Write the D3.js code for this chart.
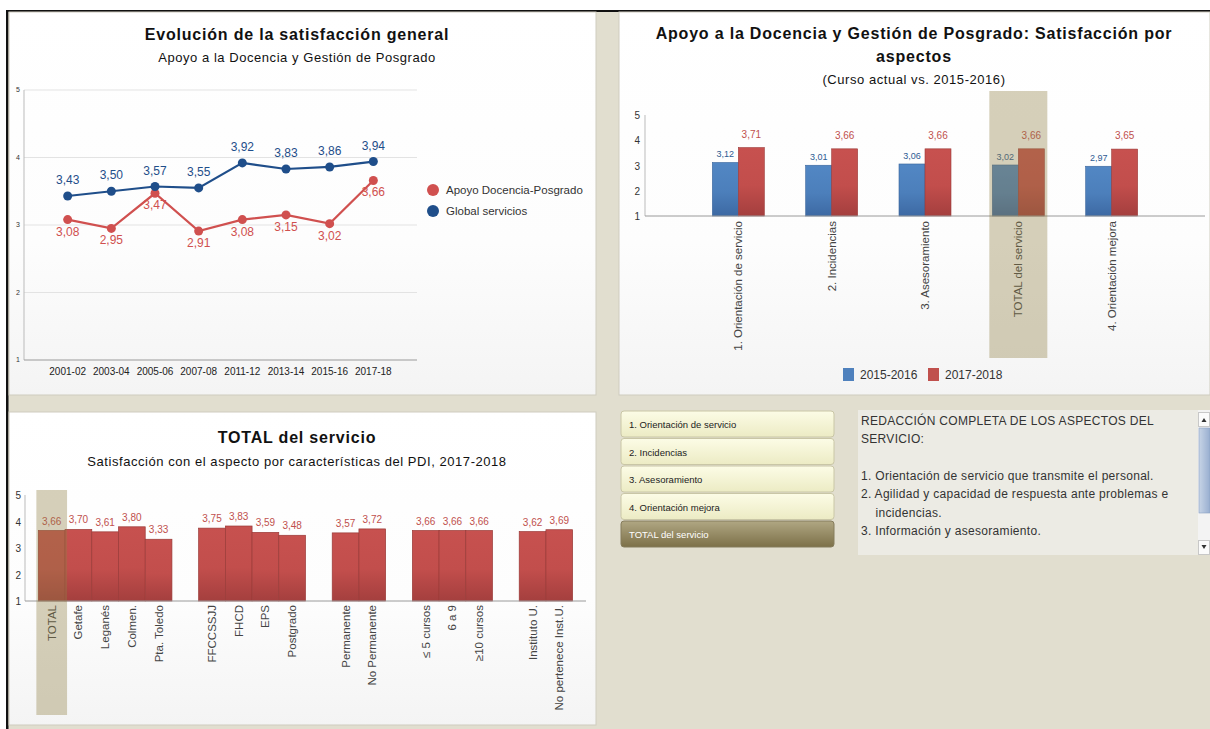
<!DOCTYPE html>
<html>
<head>
<meta charset="utf-8">
<script src="https://cdn.jsdelivr.net/npm/d3@7"></script>
<style>
  html, body { margin: 0; padding: 0; background: #fff; }
  svg { display: block; font-family: "Liberation Sans", Arial, sans-serif; }
</style>
</head>
<body>
<svg id="dash" width="1210" height="729"></svg>
<script>
// ---- Datos ----
const cursos = ["2001-02", "2003-04", "2005-06", "2007-08", "2011-12", "2013-14", "2015-16", "2017-18"];
const apoyoDocencia = [3.08, 2.95, 3.47, 2.91, 3.08, 3.15, 3.02, 3.66];
const globalServicios = [3.43, 3.50, 3.57, 3.55, 3.92, 3.83, 3.86, 3.94];
const seriesEvolucion = ["Apoyo Docencia-Posgrado", "Global servicios"];

const aspectos = ["1. Orientación de servicio", "2. Incidencias", "3. Asesoramiento", "TOTAL del servicio", "4. Orientación mejora"];
const valores2015 = [3.12, 3.01, 3.06, 3.02, 2.97];
const valores2017 = [3.71, 3.66, 3.66, 3.66, 3.65];
const seriesAspectos = ["2015-2016", "2017-2018"];

const caracteristicas = ["TOTAL", "Getafe", "Leganés", "Colmen.", "Pta. Toledo",
  "FFCCSSJJ", "FHCD", "EPS", "Postgrado",
  "Permanente", "No Permanente",
  "≤ 5 cursos", "6 a 9", "≥10 cursos",
  "Instituto U.", "No pertenece Inst.U."];
const grupoCaracteristica = [0, 0, 0, 0, 0, 1, 1, 1, 1, 2, 2, 3, 3, 3, 4, 4];
const satisfaccionPDI = [3.66, 3.70, 3.61, 3.80, 3.33, 3.75, 3.83, 3.59, 3.48, 3.57, 3.72, 3.66, 3.66, 3.66, 3.62, 3.69];

const yTicks = [1, 2, 3, 4, 5];

const botones = ["1. Orientación de servicio", "2. Incidencias", "3. Asesoramiento", "4. Orientación mejora", "TOTAL del servicio"];
const botonActivo = "TOTAL del servicio";
const textoAspectos = [
  "REDACCIÓN COMPLETA DE LOS ASPECTOS DEL",
  "SERVICIO:",
  "",
  "1. Orientación de servicio que transmite el personal.",
  "2. Agilidad y capacidad de respuesta ante problemas e",
  "    incidencias.",
  "3. Información y asesoramiento."
];

// ---- Utilidades ----
const es = d3.formatLocale({ decimal: ",", thousands: ".", grouping: [3], currency: ["", " €"] });
const fmt = es.format(".2f");

const C = {
  beige: "#e1decf",
  red: "#c0504d",
  redLine: "#d0504f",
  blue: "#4f81bd",
  navy: "#1f4e8a",
  grid: "#e3e3e3",
  axis: "#9a9a9a",
  text: "#222"
};

const svg = d3.select("#dash");
const defs = svg.append("defs");

function vGrad(id, stops) {
  const g = defs.append("linearGradient").attr("id", id)
    .attr("x1", 0).attr("y1", 0).attr("x2", 0).attr("y2", 1);
  stops.forEach(([o, c]) => g.append("stop").attr("offset", o).attr("stop-color", c));
}
vGrad("panelBg", [[0, "#ffffff"], [0.6, "#fdfdfd"], [1, "#f4f4f4"]]);
vGrad("barRed", [[0, "#c7514f"], [0.55, "#c24e4c"], [1, "#a43f3e"]]);
vGrad("barBlue", [[0, "#5287c4"], [0.55, "#4c7fbb"], [1, "#3d69a3"]]);
vGrad("btn", [[0, "#fcfce6"], [1, "#ecebc4"]]);
vGrad("btnOn", [[0, "#b0a783"], [1, "#7c7048"]]);
defs.append("linearGradient").attr("id", "thumbH")
  .attr("x1", 0).attr("y1", 0).attr("x2", 1).attr("y2", 0)
  .call(g => {
    g.append("stop").attr("offset", 0).attr("stop-color", "#c7d4e6");
    g.append("stop").attr("offset", 1).attr("stop-color", "#98aed0");
  });

// ---- Fondo del cuadro de mando ----
svg.append("rect").attr("x", 7).attr("y", 11).attr("width", 1203).attr("height", 718).attr("fill", C.beige);
svg.append("rect").attr("x", 6).attr("y", 10).attr("width", 1204).attr("height", 2).attr("fill", "#111");
svg.append("rect").attr("x", 6).attr("y", 10).attr("width", 2.5).attr("height", 719).attr("fill", "#111");

const paneles = [
  { x: 9, y: 12, w: 587, h: 383 },
  { x: 619, y: 12, w: 591, h: 383 },
  { x: 9, y: 412, w: 587, h: 313 }
];
svg.selectAll("rect.panel").data(paneles).join("rect")
  .attr("class", "panel")
  .attr("x", d => d.x).attr("y", d => d.y)
  .attr("width", d => d.w).attr("height", d => d.h)
  .attr("fill", "url(#panelBg)")
  .attr("stroke", "#cfccbf").attr("stroke-width", 1);

function titulo(g, lines, x, y0, size, weight, lh, ls) {
  lines.forEach((t, i) => g.append("text")
    .attr("x", x).attr("y", y0 + i * lh)
    .attr("text-anchor", "middle")
    .attr("font-size", size).attr("font-weight", weight)
    .attr("letter-spacing", ls)
    .attr("fill", "#111").text(t));
}

// ==== Panel 1: evolución de la satisfacción ====
{
  const g = svg.append("g");
  titulo(g, ["Evolución de la satisfacción general"], 297, 40, 16, "bold", 0, 0.8);
  titulo(g, ["Apoyo a la Docencia y Gestión de Posgrado"], 297, 62, 13, "normal", 0, 0.55);

  const x = d3.scalePoint().domain(cursos).range([24, 417]).padding(1);
  const y = d3.scaleLinear().domain([1, 5]).range([360, 90]);

  g.selectAll("line.grid").data(yTicks.filter(t => t > 1)).join("line")
    .attr("x1", 24).attr("x2", 417)
    .attr("y1", d => y(d)).attr("y2", d => y(d))
    .attr("stroke", C.grid).attr("stroke-width", 1);
  g.append("line").attr("x1", 24).attr("x2", 24).attr("y1", y(5)).attr("y2", y(1))
    .attr("stroke", "#bbb");
  g.append("line").attr("x1", 24).attr("x2", 417).attr("y1", y(1)).attr("y2", y(1))
    .attr("stroke", C.axis);

  g.selectAll("text.ytick").data(yTicks).join("text")
    .attr("x", 20).attr("y", d => y(d) + 2)
    .attr("text-anchor", "end").attr("font-size", 7).attr("fill", "#333")
    .text(d => d);

  g.selectAll("text.xtick").data(cursos).join("text")
    .attr("x", d => x(d)).attr("y", 375)
    .attr("text-anchor", "middle").attr("font-size", 10).attr("fill", C.text)
    .text(d => d);

  const series = [
    { name: seriesEvolucion[0], values: apoyoDocencia, color: C.redLine, dy: 16 },
    { name: seriesEvolucion[1], values: globalServicios, color: C.navy, dy: -12 }
  ];
  const line = d3.line().x((d, i) => x(cursos[i])).y(d => y(d));

  series.forEach(s => {
    g.append("path").attr("d", line(s.values))
      .attr("fill", "none").attr("stroke", s.color).attr("stroke-width", 2.2);
    g.selectAll(null).data(s.values).join("circle")
      .attr("cx", (d, i) => x(cursos[i])).attr("cy", d => y(d)).attr("r", 4.5)
      .attr("fill", s.color);
  });
  series.forEach(s => {
    g.selectAll(null).data(s.values).join("text")
      .attr("x", (d, i) => x(cursos[i])).attr("y", d => y(d) + s.dy)
      .attr("text-anchor", "middle").attr("font-size", 12).attr("fill", s.color)
      .text(d => fmt(d));
  });

  // leyenda
  const ley = g.selectAll("g.ley").data(series).join("g")
    .attr("transform", (d, i) => `translate(433,${190 + i * 21})`);
  ley.append("circle").attr("r", 6).attr("fill", d => d.color);
  ley.append("text").attr("x", 13).attr("y", 4).attr("font-size", 11.5).attr("fill", "#333")
    .text(d => d.name);
}

// ==== Panel 2: satisfacción por aspectos ====
{
  const g = svg.append("g");
  titulo(g, ["Apoyo a la Docencia y Gestión de Posgrado: Satisfacción por", "aspectos"], 914, 39, 16, "bold", 23, 0.8);
  titulo(g, ["(Curso actual vs. 2015-2016)"], 914, 84, 13, "normal", 0, 0.55);

  const x = d3.scalePoint().domain(aspectos).range([645, 1205]).padding(1);
  const xs = d3.scaleBand().domain(seriesAspectos).range([-26, 26]);
  const y = d3.scaleLinear().domain([1, 5]).range([216, 115]);

  g.append("line").attr("x1", 645).attr("x2", 645).attr("y1", y(5)).attr("y2", y(1)).attr("stroke", "#bbb");

  g.selectAll("text.ytick").data(yTicks).join("text")
    .attr("x", 640).attr("y", d => y(d) + 4)
    .attr("text-anchor", "end").attr("font-size", 10).attr("fill", "#333")
    .text(d => d);

  const filas = aspectos.map((a, i) => ({ a, v: [valores2015[i], valores2017[i]] }));
  const cols = [
    { fill: "url(#barBlue)", stroke: "#3a659c", text: "#2e5b93", size: 9, off: 5 },
    { fill: "url(#barRed)", stroke: "#9c3b39", text: C.red, size: 10, off: 10 }
  ];
  seriesAspectos.forEach((s, k) => {
    g.selectAll(null).data(filas).join("rect")
      .attr("x", d => x(d.a) + xs(s)).attr("width", xs.bandwidth())
      .attr("y", d => y(d.v[k])).attr("height", d => y(1) - y(d.v[k]))
      .attr("fill", cols[k].fill).attr("stroke", cols[k].stroke).attr("stroke-width", 0.6);
    g.selectAll(null).data(filas).join("text")
      .attr("x", d => x(d.a) + xs(s) + xs.bandwidth() / 2)
      .attr("y", d => y(d.v[k]) - cols[k].off)
      .attr("text-anchor", "middle").attr("font-size", cols[k].size).attr("fill", cols[k].text)
      .text(d => fmt(d.v[k]));
  });

  g.append("line").attr("x1", 645).attr("x2", 1205).attr("y1", y(1)).attr("y2", y(1)).attr("stroke", C.axis);

  g.selectAll("text.xlab").data(aspectos).join("text")
    .attr("transform", d => `translate(${x(d)},221) rotate(-90)`)
    .attr("dy", "0.35em").attr("text-anchor", "end")
    .attr("font-size", 11.5).attr("fill", "#444")
    .text(d => d);

  // resaltado del total
  const xt = x("TOTAL del servicio");
  g.append("rect").attr("x", xt - 29).attr("y", 91).attr("width", 58).attr("height", 267)
    .attr("fill", "rgb(144,128,69)").attr("fill-opacity", 0.37);

  const ley = g.selectAll("g.ley").data(seriesAspectos).join("g")
    .attr("transform", (d, i) => `translate(${843 + i * 85},368)`);
  ley.append("rect").attr("width", 11).attr("height", 13)
    .attr("fill", (d, i) => i ? C.red : C.blue);
  ley.append("text").attr("x", 17).attr("y", 11).attr("font-size", 12).attr("fill", "#333")
    .text(d => d);
}

// ==== Panel 3: TOTAL del servicio por características ====
{
  const g = svg.append("g");
  titulo(g, ["TOTAL del servicio"], 297, 443, 16, "bold", 0, 0.8);
  titulo(g, ["Satisfacción con el aspecto por características del PDI, 2017-2018"], 297, 466, 13, "normal", 0, 0.55);

  // dominio con huecos entre grupos
  const slots = [];
  caracteristicas.forEach((c, i) => {
    if (i > 0 && grupoCaracteristica[i] !== grupoCaracteristica[i - 1]) slots.push("·" + grupoCaracteristica[i]);
    slots.push(c);
  });
  const x = d3.scaleBand().domain(slots).range([25, 586]).paddingInner(0).paddingOuter(0.5);
  const y = d3.scaleLinear().domain([1, 5]).range([601, 495]);

  g.append("line").attr("x1", 25).attr("x2", 25).attr("y1", y(5)).attr("y2", y(1)).attr("stroke", "#bbb");
  g.selectAll("text.ytick").data(yTicks).join("text")
    .attr("x", 21).attr("y", d => y(d) + 4)
    .attr("text-anchor", "end").attr("font-size", 10).attr("fill", "#333")
    .text(d => d);

  const datos = caracteristicas.map((c, i) => ({ c, v: satisfaccionPDI[i] }));
  g.selectAll("rect.bar").data(datos).join("rect")
    .attr("x", d => x(d.c)).attr("width", x.bandwidth())
    .attr("y", d => y(d.v)).attr("height", d => y(1) - y(d.v))
    .attr("fill", "url(#barRed)").attr("stroke", "#9a3a38").attr("stroke-width", 0.7);
  g.selectAll("text.val").data(datos).join("text")
    .attr("x", d => x(d.c) + x.bandwidth() / 2).attr("y", d => y(d.v) - 6)
    .attr("text-anchor", "middle").attr("font-size", 10).attr("fill", C.red)
    .text(d => fmt(d.v));

  g.append("line").attr("x1", 25).attr("x2", 586).attr("y1", y(1)).attr("y2", y(1)).attr("stroke", C.axis);

  g.selectAll("text.xlab").data(caracteristicas).join("text")
    .attr("transform", d => `translate(${x(d) + x.bandwidth() / 2},605) rotate(-90)`)
    .attr("dy", "0.35em").attr("text-anchor", "end")
    .attr("font-size", 11.5).attr("fill", "#444")
    .text(d => d);

  g.append("rect").attr("x", x("TOTAL") - 2).attr("y", 490)
    .attr("width", x.bandwidth() + 4).attr("height", 225)
    .attr("fill", "rgb(144,128,69)").attr("fill-opacity", 0.37);
}

// ==== Selector de aspectos y descripción ====
{
  const g = svg.append("g");
  const b = g.selectAll("g.btn").data(botones).join("g")
    .attr("transform", (d, i) => `translate(621,${411 + i * 27.5})`);
  b.append("rect").attr("width", 213).attr("height", 26).attr("rx", 3)
    .attr("fill", d => d === botonActivo ? "url(#btnOn)" : "url(#btn)")
    .attr("stroke", d => d === botonActivo ? "#857c5c" : "#c9c6a6");
  b.append("text").attr("x", 8).attr("y", 17).attr("font-size", 9.5)
    .attr("fill", d => d === botonActivo ? "#fff" : "#222")
    .text(d => d);

  g.append("rect").attr("x", 858).attr("y", 410).attr("width", 340).attr("height", 145).attr("fill", "#ecebe4");
  g.selectAll("text.desc").data(textoAspectos).join("text")
    .attr("x", 861).attr("y", (d, i) => 425 + i * 18.3)
    .attr("font-size", 12).attr("fill", "#333")
    .attr("letter-spacing", 0.3)
    .attr("xml:space", "preserve")
    .text(d => d);

  // barra de desplazamiento
  g.append("rect").attr("x", 1198).attr("y", 410).attr("width", 12).attr("height", 145).attr("fill", "#f3f3f3");
  g.append("rect").attr("x", 1198.5).attr("y", 412.5).attr("width", 11).attr("height", 14).attr("fill", "#fbfbfb").attr("stroke", "#c8c8c8");
  g.append("rect").attr("x", 1198.5).attr("y", 540.5).attr("width", 11).attr("height", 14).attr("fill", "#fbfbfb").attr("stroke", "#c8c8c8");
  g.append("rect").attr("x", 1199).attr("y", 428).attr("width", 11).attr("height", 85).attr("fill", "url(#thumbH)").attr("stroke", "#8aa0c2").attr("stroke-width", 0.6);
  g.append("path").attr("d", "M1201.5,422 L1204,418 L1206.5,422 Z").attr("fill", "#333");
  g.append("path").attr("d", "M1201.5,545 L1204,549 L1206.5,545 Z").attr("fill", "#333");
}
</script>
</body>
</html>
